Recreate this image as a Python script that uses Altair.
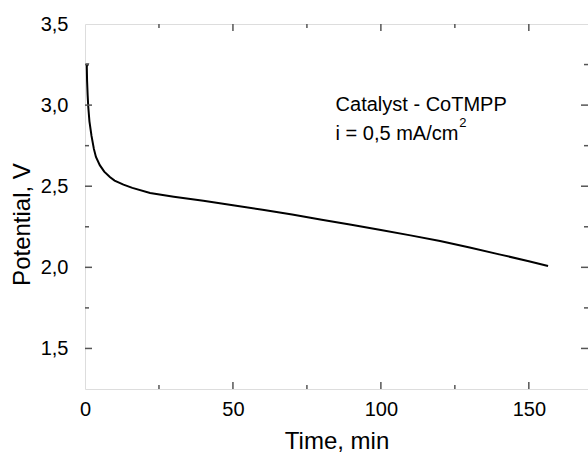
import altair as alt
import pandas as pd

# ---- data ----
time_min = [0.2, 0.9, 0.6, 0.7, 0.9, 1.1, 1.5, 2.2, 3.0, 3.7, 5.0, 6.5, 8.4, 10, 13, 16, 22,
            30, 40, 50, 60, 70, 80, 90, 100, 110, 120, 130, 140, 150, 156.5]
potential_v = [3.25, 3.25, 3.24, 3.15, 3.06, 2.99, 2.90, 2.81, 2.73, 2.68, 2.63, 2.59, 2.557,
               2.535, 2.51, 2.49, 2.458, 2.435, 2.41, 2.383, 2.355, 2.326, 2.293, 2.262,
               2.23, 2.197, 2.162, 2.122, 2.08, 2.038, 2.008]

x_major = [50, 100, 150]
x_minor = [25, 75, 125]
y_major = [1.5, 2.0, 2.5, 3.0]
y_minor = [1.75, 2.25, 2.75, 3.25]

x_labels = [0, 50, 100, 150]
y_labels = [1.5, 2.0, 2.5, 3.0, 3.5]

ann_text = ["Catalyst - CoTMPP", "i = 0,5 mA/cm"]
ann_x = [84.7, 84.7]
ann_y = [2.962, 2.782]
sup_text = ["2"]
sup_x = [126.5]
sup_y = [2.868]

W, H = 503, 365
FONT = "Liberation Sans"
AX = "#555555"

xs = alt.Scale(domain=[0, 170], nice=False, zero=False)
ys = alt.Scale(domain=[1.25, 3.5], nice=False, zero=False)

df = pd.DataFrame({"t": time_min, "v": potential_v, "i": list(range(len(time_min)))})

line = alt.Chart(df).mark_line(color="black", strokeWidth=2).encode(
    x=alt.X("t:Q", scale=xs,
            axis=alt.Axis(values=x_labels, title="Time, min", grid=False, domain=False,
                          ticks=False, tickSize=0, labelPadding=10, labelFontSize=20,
                          labelFlush=False,
                          labelFont=FONT, labelColor="black", titleFont=FONT,
                          titleFontSize=24, titleFontWeight="normal", titleColor="black",
                          titleBaseline="alphabetic", titleY=59)),
    y=alt.Y("v:Q", scale=ys,
            axis=alt.Axis(values=y_labels, title="Potential, V", grid=False, domain=False,
                          ticks=False, tickSize=0, labelPadding=17, labelFontSize=20,
                          labelFlush=False,
                          labelFont=FONT, labelColor="black",
                          labelExpr="replace(format(datum.value, '.1f'), '.', ',')",
                          titleFont=FONT, titleFontSize=24, titleFontWeight="normal",
                          titleColor="black", titleAngle=-90, titleBaseline="alphabetic",
                          titleX=-56, titleY=200)),
    order=alt.Order("i:Q"),
)


def xticks(vals, length):
    d = pd.DataFrame({"t": vals})
    b = alt.Chart(d).mark_rule(color=AX, strokeWidth=1.5)
    bottom = b.encode(x=alt.X("t:Q", scale=xs), y=alt.value(H), y2=alt.value(H - length))
    top = b.encode(x=alt.X("t:Q", scale=xs), y=alt.value(0), y2=alt.value(length))
    return [bottom, top]


def yticks(vals, length):
    d = pd.DataFrame({"v": vals})
    b = alt.Chart(d).mark_rule(color=AX, strokeWidth=1.5)
    left = b.encode(y=alt.Y("v:Q", scale=ys), x=alt.value(0), x2=alt.value(length))
    right = b.encode(y=alt.Y("v:Q", scale=ys), x=alt.value(W), x2=alt.value(W - length))
    return [left, right]


ann = alt.Chart(pd.DataFrame({"t": ann_x, "v": ann_y, "label": ann_text})).mark_text(
    align="left", baseline="alphabetic", fontSize=20, font=FONT, color="black"
).encode(x=alt.X("t:Q", scale=xs), y=alt.Y("v:Q", scale=ys), text="label:N")

sup = alt.Chart(pd.DataFrame({"t": sup_x, "v": sup_y, "label": sup_text})).mark_text(
    align="left", baseline="alphabetic", fontSize=13, font=FONT, color="black"
).encode(x=alt.X("t:Q", scale=xs), y=alt.Y("v:Q", scale=ys), text="label:N")

layers = ([line] + xticks(x_major, 7) + xticks(x_minor, 4) + yticks(y_major, 7)
          + yticks(y_minor, 4) + [ann, sup])

chart = alt.layer(*layers).properties(
    width=W, height=H,
    autosize=alt.AutoSizeParams(type="none"),
    padding={"left": 85, "top": 24, "right": 0, "bottom": 68},
).configure_view(stroke=AX, strokeWidth=1.5).configure(background="white")

chart.save("out.html", embed_options={"renderer": "svg", "actions": False})
